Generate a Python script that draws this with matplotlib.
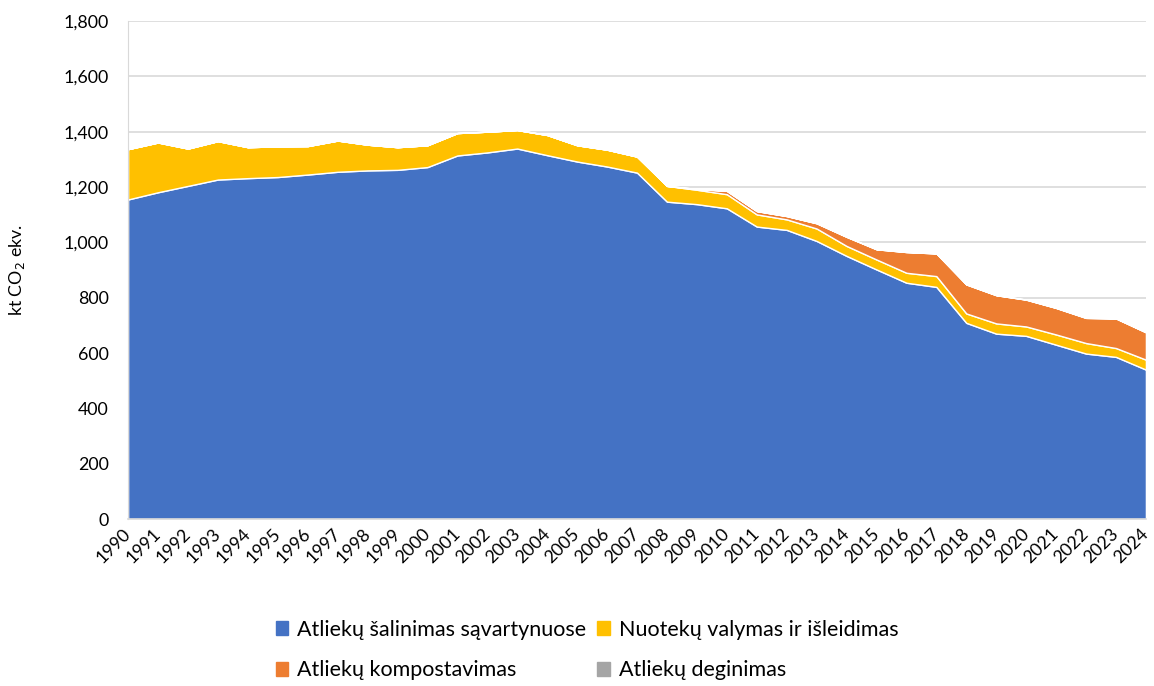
import matplotlib

matplotlib.use("Agg")
import matplotlib.pyplot as plt
import matplotlib.transforms as mtransforms
from matplotlib.patches import Patch
from matplotlib.ticker import FuncFormatter
import numpy as np

plt.rcParams["font.family"] = ["Lato", "DejaVu Sans"]

years = list(range(1990, 2025))

# kt CO2 ekv.
landfill = [1155, 1181, 1204, 1227, 1232, 1236, 1245, 1255, 1260, 1262,
            1272, 1314, 1325, 1339, 1315, 1292, 1274, 1252, 1147, 1138,
            1123, 1057, 1045, 1005, 951, 902, 854, 839, 709, 670,
            662, 630, 598, 586, 540]
wastewater = [182, 180, 135, 139, 112, 111, 103, 113, 93, 82,
              79, 81, 75, 67, 73, 59, 61, 58, 57, 52,
              51, 44, 38, 45, 36, 36, 36, 39, 34, 37,
              34, 37, 38, 32, 36]
composting = [0, 0, 0, 0, 0, 0, 0, 0, 0, 0,
              0, 0, 0, 0, 0, 0, 0, 0, 0, 3,
              12, 12, 12, 19, 33, 37, 75, 82, 105, 102,
              97, 96, 91, 107, 99]
incineration = [0, 0, 0, 0, 0, 0, 0, 0, 0, 0,
                0, 0, 0, 0, 0, 0, 0, 0, 0, 0,
                0, 0, 0, 0, 0, 0, 0, 0, 0, 0,
                0, 0, 0, 0, 0]

labels = ["Atliekų šalinimas sąvartynuose", "Nuotekų valymas ir išleidimas",
          "Atliekų kompostavimas", "Atliekų deginimas"]
colors = ["#4472C4", "#FFC000", "#ED7D31", "#A5A5A5"]

fig = plt.figure(figsize=(11.54, 6.86), dpi=100)
ax = fig.add_axes([0.111, 0.2434, 0.882, 0.726])

ax.stackplot(years, landfill, wastewater, composting, incineration,
             colors=colors, edgecolor="white", linewidth=1.0, zorder=2)

ax.set_xlim(1990, 2024)
ax.set_ylim(0, 1800)
ax.set_yticks(range(0, 1801, 200))
ax.yaxis.set_major_formatter(FuncFormatter(lambda v, p: f"{v:,.0f}"))
ax.set_xticks(years)
ax.set_xticklabels([str(y) for y in years], rotation=45, ha="right",
                   rotation_mode="anchor")
ax.tick_params(axis="both", length=0, labelsize=12.8, colors="#000000")
ax.tick_params(axis="x", pad=5)
ax.tick_params(axis="y", pad=14)
# nudge the year labels a little to the left so the last one stays inside
shift = mtransforms.ScaledTranslation(-4 / 72, 0, fig.dpi_scale_trans)
for lbl in ax.get_xticklabels():
    lbl.set_transform(lbl.get_transform() + shift)
ax.grid(axis="y", color="#D9D9D9", linewidth=1.2, zorder=0)
ax.set_axisbelow(True)
for side in ["top", "right"]:
    ax.spines[side].set_visible(False)
ax.spines["left"].set_color("#D9D9D9")
ax.spines["bottom"].set_color("#D9D9D9")
ax.spines["bottom"].set_linewidth(1.2)
ax.set_ylabel("kt CO$_2$ ekv.", fontsize=12.8, labelpad=26)

handles = [Patch(color=c) for c in colors]
order = [0, 2, 1, 3]
fig.legend([handles[i] for i in order], [labels[i] for i in order],
           ncol=2, loc="lower left", bbox_to_anchor=(0.222, -0.02),
           frameon=False, fontsize=15.5, handlelength=0.6, handleheight=0.6,
           handletextpad=0.4, columnspacing=0.5, labelspacing=0.95)

fig.savefig("out.png", dpi=100)
